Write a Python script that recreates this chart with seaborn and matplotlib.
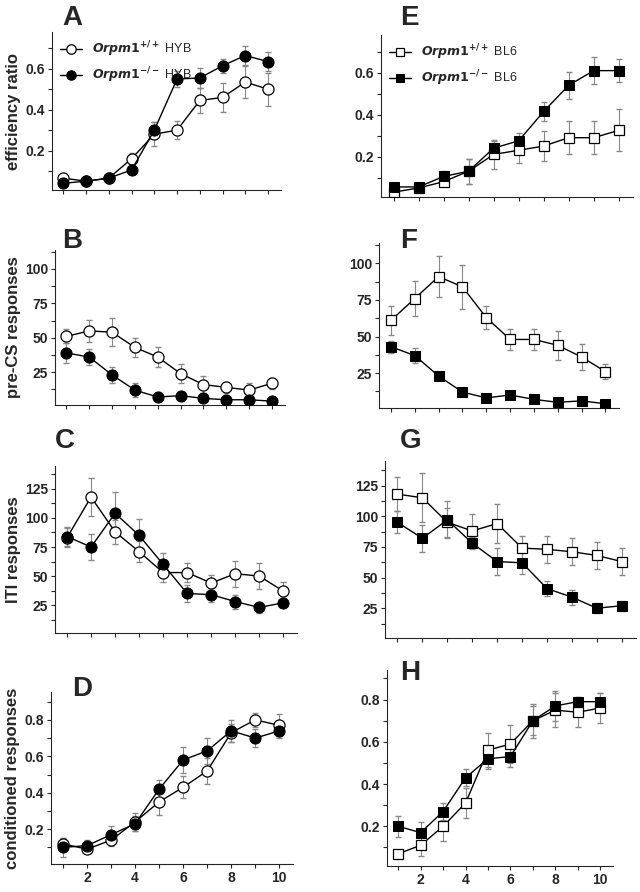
import numpy as np
import seaborn as sns
import matplotlib.pyplot as plt

sns.set_style("ticks")
plt.rcParams['font.family'] = ['Liberation Sans', 'DejaVu Sans']
plt.rcParams['font.weight'] = 'bold'

days = list(range(1, 11))

# efficiency ratio
a_wt = [.065, .05, .065, .16, .28, .30, .445, .46, .535, .50]
a_wt_err = [.01, .01, .01, .03, .06, .045, .06, .07, .08, .08]
a_ko = [.04, .05, .065, .105, .30, .55, .555, .615, .665, .635]
a_ko_err = [.01, .01, .01, .02, .04, .04, .05, .035, .045, .045]
e_wt = [.03, .05, .08, .13, .21, .23, .25, .29, .29, .325]
e_wt_err = [.01, .01, .02, .06, .07, .06, .07, .08, .08, .10]
e_ko = [.055, .055, .105, .13, .24, .275, .415, .54, .61, .61]
e_ko_err = [.01, .01, .025, .06, .035, .035, .045, .065, .065, .055]
# pre-CS responses
b_wt = [51, 55, 54, 43, 36, 24, 16, 14, 12, 17]
b_wt_err = [5, 8, 10, 7, 7, 7, 6, 4, 5, 4]
b_ko = [39, 36, 23, 12, 7, 8, 6, 5, 5, 4]
b_ko_err = [7, 6, 6, 5, 3, 2, 2, 1, 1, 1]
f_wt = [61, 76, 91, 84, 63, 48, 48, 44, 36, 26]
f_wt_err = [10, 12, 14, 15, 8, 7, 7, 10, 9, 5]
f_ko = [43, 37, 23, 12, 8, 10, 7, 5, 6, 4]
f_ko_err = [4, 5, 3, 2, 1, 1, 1, 1, 1, 1]
# ITI responses
c_wt = [83, 118, 88, 71, 53, 53, 44, 52, 50, 37]
c_wt_err = [8, 16, 10, 9, 8, 8, 7, 11, 11, 8]
c_ko = [84, 75, 104, 85, 60, 35, 34, 28, 23, 27]
c_ko_err = [8, 11, 18, 14, 10, 7, 6, 6, 5, 4]
g_wt = [118, 115, 95, 88, 94, 74, 73, 71, 68, 63]
g_wt_err = [14, 20, 12, 14, 16, 10, 11, 11, 11, 11]
g_ko = [95, 82, 97, 78, 63, 62, 41, 34, 25, 27]
g_ko_err = [9, 11, 15, 5, 11, 9, 6, 6, 4, 4]
# conditioned responses
d_wt = [.12, .09, .14, .24, .35, .43, .52, .73, .80, .77]
d_wt_err = [.03, .02, .03, .05, .07, .06, .07, .05, .04, .06]
d_ko = [.10, .11, .17, .23, .42, .58, .63, .74, .70, .74]
d_ko_err = [.05, .03, .05, .04, .05, .07, .07, .06, .05, .04]
h_wt = [.07, .11, .20, .31, .56, .59, .70, .75, .74, .76]
h_wt_err = [.01, .05, .07, .07, .08, .09, .08, .08, .07, .07]
h_ko = [.20, .17, .27, .43, .52, .53, .70, .77, .79, .79]
h_ko_err = [.05, .05, .04, .04, .05, .05, .07, .07, .02, .04]

W, H = 640, 892
fig = plt.figure(figsize=(6.4, 8.92), dpi=100)

def box(l, r, t, b):
    return [l / W, 1 - b / H, (r - l) / W, (b - t) / H]

panels = [
    ('A', box(52, 281, 32, 190), (62, 5), a_wt, a_wt_err, a_ko, a_ko_err, 'o', (0.007, 0.78), 0.2, 0.1, '{:.1f}', 'efficiency ratio'),
    ('B', box(55, 285, 250, 405), (62, 228), b_wt, b_wt_err, b_ko, b_ko_err, 'o', (1.2, 113.7), 25, 12.5, '{:.0f}', 'pre-CS responses'),
    ('C', box(55, 297, 466, 633), (55, 428), c_wt, c_wt_err, c_ko, c_ko_err, 'o', (1, 144.7), 25, 12.5, '{:.0f}', 'ITI responses'),
    ('D', box(51, 293, 692, 864), (72, 676), d_wt, d_wt_err, d_ko, d_ko_err, 'o', (0.009, 0.953), 0.2, 0.1, '{:.1f}', 'conditioned responses'),
    ('E', box(381, 633, 35, 197), (400, 5), e_wt, e_wt_err, e_ko, e_ko_err, 's', (0.007, 0.78), 0.2, 0.1, '{:.1f}', None),
    ('F', box(379, 619, 243, 408), (400, 228), f_wt, f_wt_err, f_ko, f_ko_err, 's', (1.1, 114), 25, 12.5, '{:.0f}', None),
    ('G', box(385, 636, 461, 638), (400, 428), g_wt, g_wt_err, g_ko, g_ko_err, 's', (0.7, 145), 25, 12.5, '{:.0f}', None),
    ('H', box(387, 613, 670, 866), (400, 660), h_wt, h_wt_err, h_ko, h_ko_err, 's', (0.012, 0.94), 0.2, 0.1, '{:.1f}', None),
]

for (letter, pos, lpos, wt, wte, ko, koe, mk, ylim, major, minor, fmt, ylab) in panels:
    ax = fig.add_axes(pos)
    strain = 'HYB' if mk == 'o' else 'BL6'
    ms = 8 if mk == 'o' else 7
    ax.errorbar(days, wt, yerr=wte, fmt='none', ecolor='#888888', elinewidth=0.8, capsize=2.5, zorder=1)
    ax.errorbar(days, ko, yerr=koe, fmt='none', ecolor='#888888', elinewidth=0.8, capsize=2.5, zorder=1)
    sns.lineplot(x=days, y=wt, color='black', marker=mk, markersize=ms, markerfacecolor='white',
                 markeredgecolor='black', markeredgewidth=0.9, linewidth=1, ax=ax, zorder=3,
                 label=f'$\\it{{Orpm1}}^{{+/+}}$ {strain}')
    sns.lineplot(x=days, y=ko, color='black', marker=mk, markersize=ms, markerfacecolor='black',
                 markeredgecolor='black', linewidth=1, ax=ax, zorder=3,
                 label=f'$\\it{{Orpm1}}^{{-/-}}$ {strain}')
    ax.set_xlim(0.5, 10.57)
    ax.set_ylim(*ylim)
    ax.set_xticks(days)
    if letter in ('D', 'H'):
        ax.set_xticklabels(['', '2', '', '4', '', '6', '', '8', '', '10'])
    else:
        ax.set_xticklabels([])
    ticks = np.arange(minor, ylim[1], minor)
    ax.set_yticks(ticks)
    ax.set_yticklabels([fmt.format(t) if abs(t / major - round(t / major)) < 1e-6 else '' for t in ticks])
    ax.tick_params(labelsize=10, length=3, width=0.8, pad=2)
    for t in ax.get_xticklabels() + ax.get_yticklabels():
        t.set_fontweight('bold')
    sns.despine(ax=ax)
    ax.set_ylabel(ylab if ylab else '', fontsize=12, fontweight='bold', labelpad=3)
    if letter in ('A', 'E'):
        leg = ax.legend(loc='upper left', frameon=False, handlelength=1.8,
                        borderaxespad=0.2, prop={'size': 9, 'weight': 'normal'},
                        markerscale=0.85)
    else:
        ax.get_legend().remove()
    fig.text(lpos[0] / W, 1 - lpos[1] / H, letter, fontsize=20, fontweight='bold', va='top')

fig.savefig('out.png', dpi=100)
